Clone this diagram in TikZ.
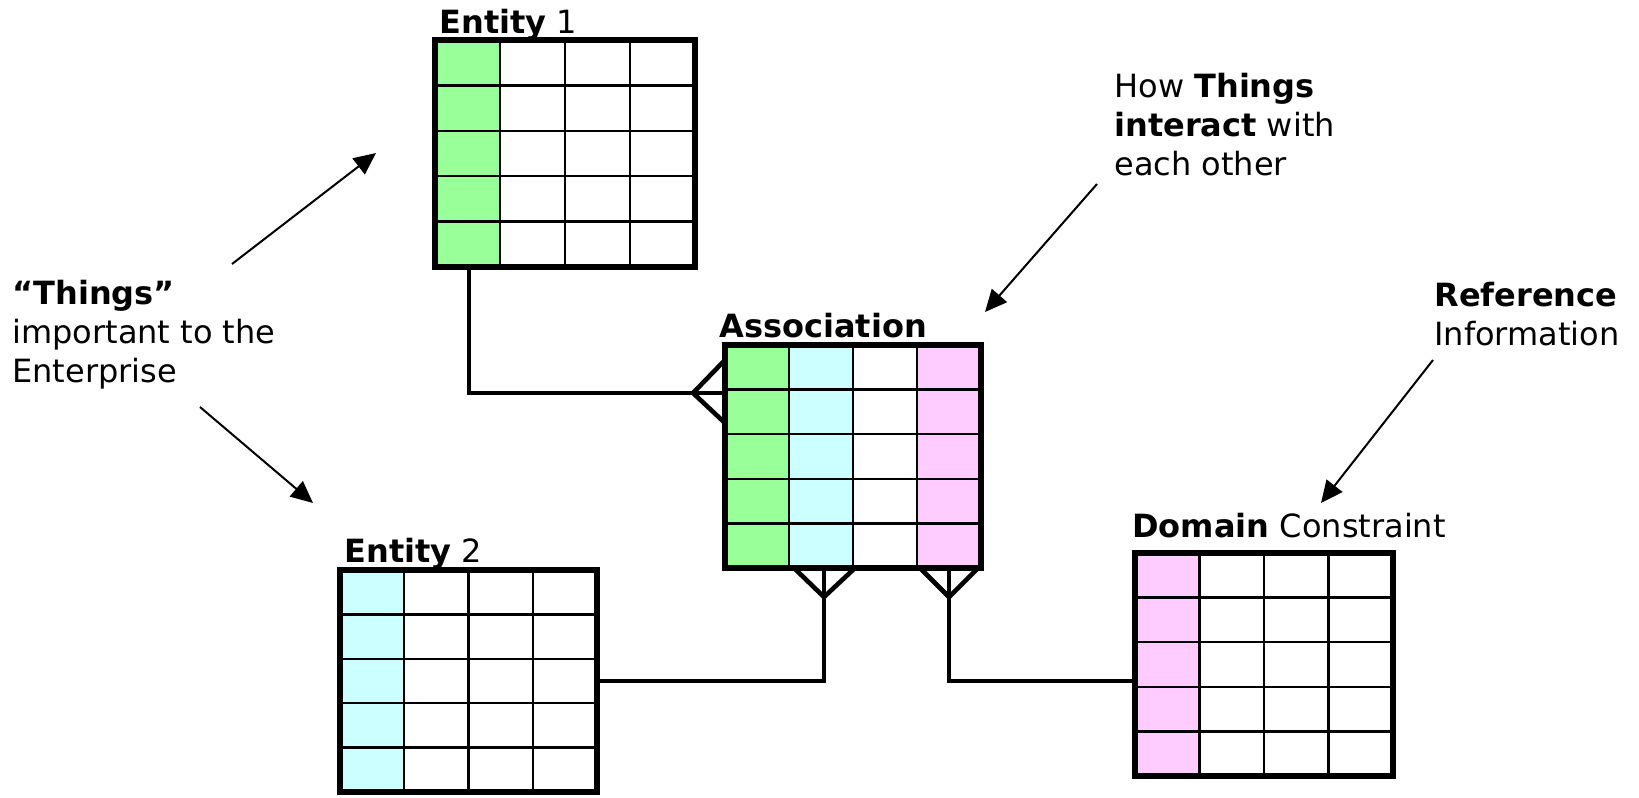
\documentclass[tikz,border=0pt]{standalone}
\usepackage{fontspec}
\setmainfont{DejaVu Sans}
\usetikzlibrary{fit,arrows.meta}
\definecolor{entgreen}{HTML}{99FF99}
\definecolor{entcyan}{HTML}{CCFFFF}
\definecolor{entpink}{HTML}{FFCCFF}
\tikzset{
  tblframe/.style={draw=black, line width=2.9pt, inner sep=0pt, outer sep=0pt},
  gridline/.style={draw=black, line width=1.2pt},
  conn/.style={draw=black, line width=2.3pt},
  callout/.style={draw=black, line width=1pt, -{Triangle[length=11pt,width=10pt]}},
  title/.style={anchor=base west, inner sep=0pt, font=\fontsize{16pt}{19.5pt}\selectfont},
  note/.style={anchor=base west, inner sep=0pt, align=left, font=\fontsize{16pt}{19.3pt}\selectfont},
}
\newcommand\erbox[9]{%
  \pgfmathsetmacro\erCW{(#4-#2)/4}%
  \pgfmathsetmacro\erRH{(#5-#3)/5}%
  \foreach \colr [count=\i from 0] in {#6,#7,#8,#9}{
    \fill[\colr] ({#2+\i*\erCW},#3) rectangle ({#2+(\i+1)*\erCW},#5);}
  \foreach \i in {1,2,3}{\draw[gridline] ({#2+\i*\erCW},#3) -- ({#2+\i*\erCW},#5);}
  \foreach \j in {1,...,4}{\draw[gridline] (#2,{#3+\j*\erRH}) -- (#4,{#3+\j*\erRH});}
  \node[tblframe, fit={(#2,#3) (#4,#5)}] (#1) {};
}
\begin{document}
\begin{tikzpicture}[x=0.5pt,y=-0.5pt]
\fill[white] (0,0) rectangle (1639,798);
\useasboundingbox (0,0) rectangle (1639,798);

% tables
\erbox{e1}{435}{40}{695}{267}{entgreen}{white}{white}{white}
\erbox{assoc}{725}{345}{981}{568}{entgreen}{entcyan}{white}{entpink}
\erbox{e2}{340}{570}{597}{792}{entcyan}{white}{white}{white}
\erbox{dom}{1135}{553}{1393}{776}{entpink}{white}{white}{white}

% titles
\node[title] (t1) at (439,33) {\textbf{Entity} 1};
\node[title] (t2) at (719,337) {\textbf{Association}};
\node[title] (t3) at (344,562) {\textbf{Entity} 2};
\node[title] (t4) at (1132,537) {\textbf{Domain} Constraint};

% notes (base anchor = baseline of last line)
\node[note] (things) at (12,382) {\textbf{“Things”}\\important to the\\Enterprise};
\node[note] (howthings) at (1114,175) {How \textbf{Things}\\\textbf{interact} with\\each other};
\node[note] (refinfo) at (1434,345) {\textbf{Reference}\\Information};

% callout arrows
\coordinate (a1s) at (232,264); \coordinate (a1e) at (376,153);
\coordinate (a2s) at (200,407); \coordinate (a2e) at (313,503);
\coordinate (a3s) at (1097,184); \coordinate (a3e) at (985,312);
\coordinate (a4s) at (1433,360); \coordinate (a4e) at (1321,503);
\draw[callout] (a1s) -- (a1e);
\draw[callout] (a2s) -- (a2e);
\draw[callout] (a3s) -- (a3e);
\draw[callout] (a4s) -- (a4e);

% relationship Entity 1 -> Association
\draw[conn] ([xshift=17pt]e1.south west) |- ([yshift=-24pt]assoc.north west);
\draw[conn] ([yshift=-7.5pt]assoc.north west) -- ([xshift=-16pt,yshift=-24pt]assoc.north west) -- ([yshift=-39pt]assoc.north west);

% relationship Entity 2 -> Association
\draw[conn] (e2.east) -| ([xshift=49.5pt]assoc.south west);
\draw[conn] ([xshift=34.5pt]assoc.south west) -- ([xshift=49.5pt,yshift=-14.5pt]assoc.south west) -- ([xshift=65pt]assoc.south west);

% relationship Domain -> Association
\draw[conn] ([yshift=-8.25pt]dom.west) -| ([xshift=112pt]assoc.south west);
\draw[conn] ([xshift=97.5pt]assoc.south west) -- ([xshift=112pt,yshift=-14.5pt]assoc.south west) -- ([xshift=126.5pt]assoc.south west);
\end{tikzpicture}
\end{document}
